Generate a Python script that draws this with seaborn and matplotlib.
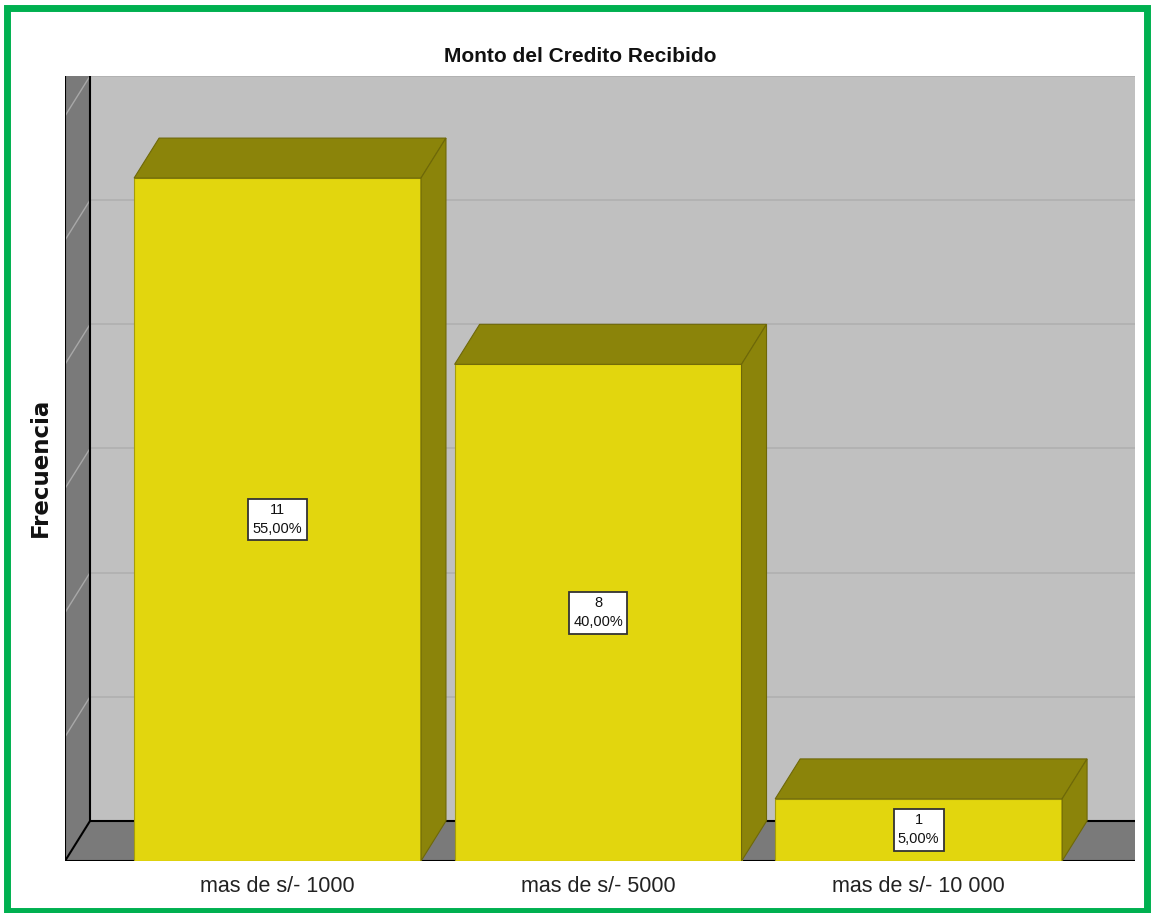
import seaborn as sns
import matplotlib.pyplot as plt
from matplotlib.patches import Polygon, Rectangle

categories = ["mas de s/- 1000", "mas de s/- 5000", "mas de s/- 10 000"]
frequencies = [11, 8, 1]
percent_labels = ["55,00%", "40,00%", "5,00%"]
grid_values = [0, 2, 4, 6, 8, 10, 12]

FRONT = "#e2d60e"
SHADE = "#8b840a"
WALL = "#7a7a7a"
BACK = "#c0c0c0"
GRID = "#b0b0b0"
GREEN = "#00b050"

W, H = 1152, 913

sns.set_style("white")
plt.rcParams["font.family"] = ["Liberation Sans", "DejaVu Sans"]


def draw_box(ax, xl, xr, ymax, dx, dy):
    top = ymax + dy
    # back wall + grid
    ax.add_patch(Rectangle((xl + dx, dy), xr - xl, ymax, fc=BACK, ec="none", zorder=0))
    for g in grid_values:
        ax.plot([xl + dx, xr], [g + dy, g + dy], color=GRID, lw=1.2, zorder=0.5)
    # floor and left wall
    ax.add_patch(Polygon([(xl, 0), (xr, 0), (xr, dy), (xl + dx, dy)], fc=WALL, ec="none", zorder=1))
    ax.add_patch(Polygon([(xl, 0), (xl + dx, dy), (xl + dx, top), (xl, top)], fc=WALL, ec="none", zorder=1))
    for g in grid_values:
        ax.plot([xl, xl + dx], [g, g + dy], color="#a8a8a8", lw=1, zorder=1.2)
    k = dict(color="black", lw=1.5, zorder=1.5)
    ax.plot([xl + dx, xl + dx], [dy, top], **k)
    ax.plot([xl, xl], [0, top], **k)
    ax.plot([xl + dx, xr], [dy, dy], **k)
    ax.plot([xl, xl + dx], [0, dy], **k)
    ax.plot([xl, xr], [0, 0], **k)


def add_depth(ax, dx, dy):
    for p in ax.patches[:]:
        x0 = p.get_x()
        x1 = x0 + p.get_width()
        h = p.get_height()
        ax.add_patch(Polygon([(x0, h), (x1, h), (x1 + dx, h + dy), (x0 + dx, h + dy)],
                             fc=SHADE, ec="#6e6808", lw=0.8, zorder=3))
        ax.add_patch(Polygon([(x1, 0), (x1 + dx, dy), (x1 + dx, h + dy), (x1, h)],
                             fc=SHADE, ec="#6e6808", lw=0.8, zorder=3))


def main():
    fig = plt.figure(figsize=(W / 100, H / 100), dpi=100)
    ax = fig.add_axes([65 / W, (H - 861) / H, 1070 / W, 785 / H])

    sns.barplot(x=categories, y=frequencies, color=FRONT, saturation=1, width=0.895,
                edgecolor="#a59c0c", linewidth=0.8, zorder=3, ax=ax)

    xl, xr = -0.663, 2.675
    ymax = grid_values[-1]
    dy = 40 / ((785 - 40) / ymax)
    dx = 25 / (1070 / (xr - xl))
    ax.set_xlim(xl, xr)
    ax.set_ylim(0, ymax + dy)

    add_depth(ax, dx, dy)
    draw_box(ax, xl, xr, ymax, dx, dy)

    for i, (v, pct) in enumerate(zip(frequencies, percent_labels)):
        ax.text(i, v / 2, f"{v}\n{pct}", ha="center", va="center", fontsize=10.5,
                linespacing=1.45, zorder=5, color="#111111",
                bbox=dict(boxstyle="square,pad=0.3", fc="white", ec="#333333", lw=1.3))

    ax.set_yticks([])
    ax.set_xlabel("")
    ax.set_ylabel("")
    ax.tick_params(axis="x", length=0, pad=11, labelsize=15.5, colors="#222222")
    for s in ax.spines.values():
        s.set_visible(False)

    fig.text(580 / W, 1 - 57 / H, "Monto del Credito Recibido", ha="center", va="center",
             fontsize=15, fontweight="bold", color="#111111")
    fig.text(40 / W, 1 - 467 / H, "Frecuencia", rotation=90, ha="center", va="center",
             fontsize=16.5, fontweight="bold", family=["DejaVu Sans"], color="#111111")

    fig.patches.append(Rectangle((6.5 / W, 2 / H), 1140 / W, 902.5 / H, transform=fig.transFigure,
                                 fill=False, ec=GREEN, lw=5, zorder=10))

    fig.savefig("out.png", dpi=100)


main()
